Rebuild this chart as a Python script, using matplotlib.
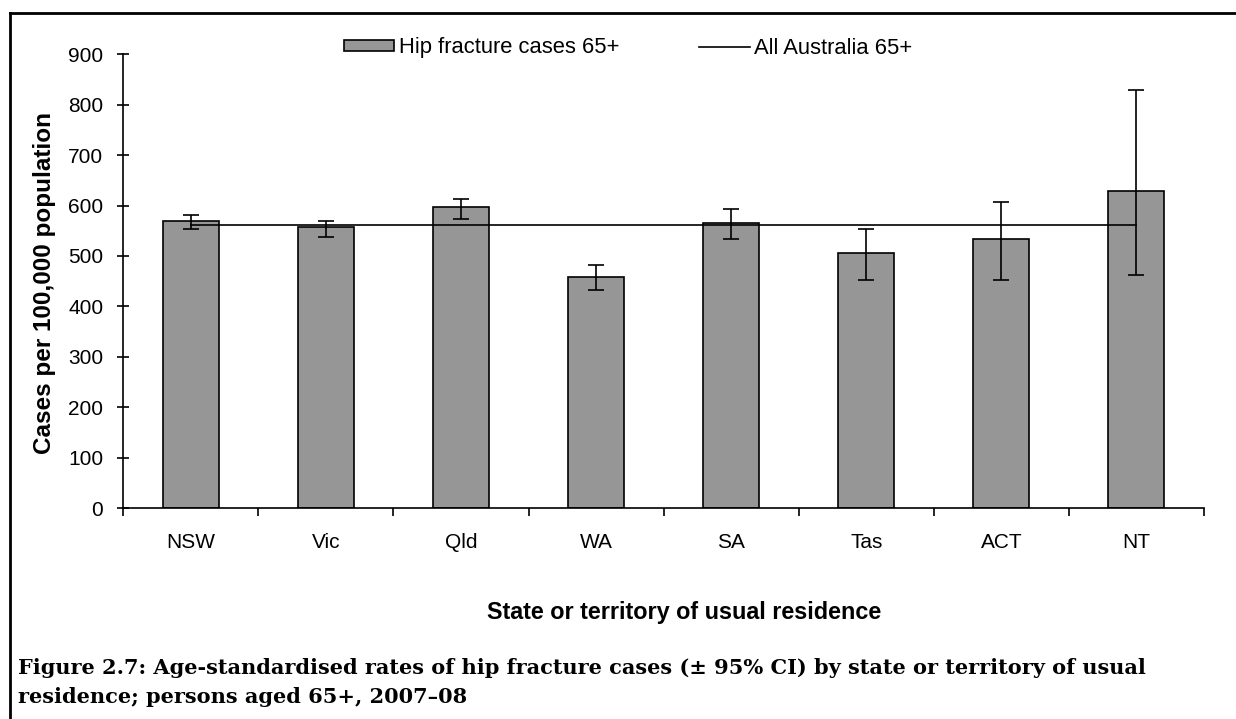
import matplotlib
matplotlib.use("Agg")
import matplotlib.pyplot as plt
from matplotlib.lines import Line2D
from matplotlib.patches import Patch
import numpy as np

# Age-standardised hip fracture rates, persons 65+, 2007-08
states = ["NSW", "Vic", "Qld", "WA", "SA", "Tas", "ACT", "NT"]
rates = [569, 558, 598, 459, 565, 506, 534, 628]
ci_low = [553, 538, 573, 433, 534, 452, 452, 463]
ci_high = [581, 569, 613, 483, 593, 553, 608, 829]
all_australia = 561

plt.rcParams["font.family"] = ["Liberation Sans", "DejaVu Sans"]

W, H = 1236, 719
fig = plt.figure(figsize=(W / 100, H / 100), dpi=100)
ax = fig.add_axes([123.3 / W, 1 - 508 / H, (1204 - 123.3) / W, (508 - 54.3) / H])

x = np.arange(len(states))
rates_a = np.array(rates)
yerr = np.vstack([rates_a - np.array(ci_low), np.array(ci_high) - rates_a])

ax.bar(x, rates, width=0.415, color="#969696", edgecolor="black", linewidth=1.2, zorder=2)
ax.plot(x, [all_australia] * len(x), color="black", linewidth=1.2, zorder=3)
ax.errorbar(x, rates, yerr=yerr, fmt="none", ecolor="black", elinewidth=1.2,
            capsize=6, capthick=1.2, zorder=4)

ax.set_xlim(-0.5, 7.5)
ax.set_ylim(0, 900)
ax.set_yticks(np.arange(0, 901, 100))
ax.tick_params(axis="y", direction="inout", length=9, width=1.2, labelsize=15, pad=10)

# category labels centred, tick marks on the boundaries
ax.set_xticks(x)
ax.set_xticklabels(states)
ax.set_xticks(np.arange(-0.5, 8, 1), minor=True)
ax.tick_params(axis="x", which="major", length=0, labelsize=15, pad=18)
ax.tick_params(axis="x", which="minor", direction="out", length=6, width=1.2)

for side in ["top", "right"]:
    ax.spines[side].set_visible(False)
for side in ["left", "bottom"]:
    ax.spines[side].set_linewidth(1.2)

fig.text(45 / W, 1 - 283 / H, "Cases per 100,000 population", rotation=90,
         ha="center", va="center", fontsize=17.5, fontweight="bold")
fig.text(684 / W, 1 - 612 / H, "State or territory of usual residence",
         ha="center", va="center", fontsize=16.8, fontweight="bold")

handles = [Patch(facecolor="#969696", edgecolor="black", linewidth=1.2),
           Line2D([0], [0], color="black", linewidth=1.2)]
fig.legend(handles, ["Hip fracture cases 65+", "All Australia 65+"],
           loc="center left", bbox_to_anchor=(344 / W, 1 - 48 / H), ncol=2,
           frameon=False, fontsize=15.8, handlelength=2.3, handleheight=0.35,
           handletextpad=0.2, columnspacing=3.65, borderpad=0, borderaxespad=0)

fig.text(18 / W, 1 - 668 / H,
         "Figure 2.7: Age-standardised rates of hip fracture cases (\u00b1 95% CI) by state or territory of usual",
         ha="left", va="center", fontsize=15, fontweight="bold",
         family=["DejaVu Serif"])
fig.text(18 / W, 1 - 697 / H,
         "residence; persons aged 65+, 2007\u201308",
         ha="left", va="center", fontsize=15, fontweight="bold",
         family=["DejaVu Serif"])

# frame around the figure panel
fig.add_artist(Line2D([9.5 / W, 9.5 / W], [0, 1 - 13 / H], transform=fig.transFigure,
                      color="black", linewidth=2))
fig.add_artist(Line2D([9.5 / W, 1], [1 - 13 / H, 1 - 13 / H], transform=fig.transFigure,
                      color="black", linewidth=2))

fig.savefig("out.png", dpi=100)
